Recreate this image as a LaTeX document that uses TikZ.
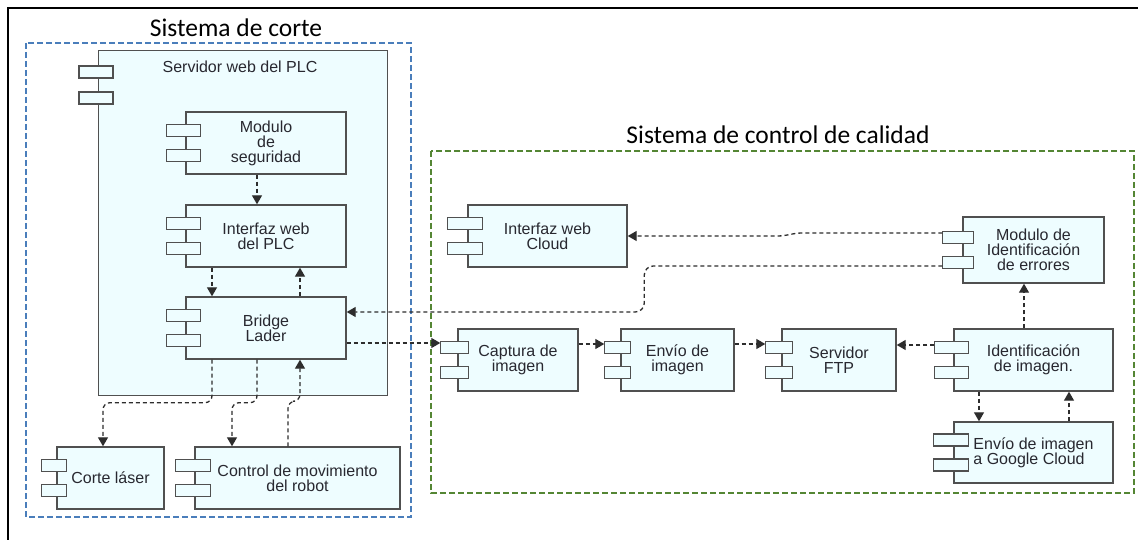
\documentclass[tikz,border=0pt]{standalone}
\usepackage{fontspec}
\setmainfont{Liberation Sans}
\newfontfamily\titlefont{Carlito}
\usetikzlibrary{arrows.meta}

\definecolor{compfill}{RGB}{238,253,255}
\definecolor{compline}{RGB}{80,80,80}
\definecolor{wirecol}{RGB}{45,45,45}
\definecolor{cutblue}{RGB}{74,126,187}
\definecolor{qcgreen}{RGB}{84,134,52}
\definecolor{txtcol}{RGB}{40,40,48}

\tikzset{
  comp/.style={draw=compline, fill=compfill, line width=1.4pt, inner sep=1pt,
    align=center, text=txtcol, font=\fontsize{16}{15}\selectfont},
  icon/.style={draw=compline, fill=compfill, line width=1.4pt},
  wire/.style={draw=wirecol, line width=1.3pt, dash pattern=on 4pt off 3pt,
    -{Triangle[length=9pt,width=10pt]}},
  groupbox/.style={line width=1.6pt, dash pattern=on 6pt off 3pt},
  grouptitle/.style={font=\titlefont\fontsize{25.5}{27}\selectfont, text=black}
}

% two port rectangles on the left side of a component: node, left reach, right reach
\newcommand\cicons[3]{%
  \foreach \dy in {12.5,-12.5}{%
    \draw[icon] ([xshift=-#2pt,yshift=\dy pt+6pt]#1.west) rectangle
                ([xshift=#3pt,yshift=\dy pt-6pt]#1.west);}}

\begin{document}
\begin{tikzpicture}[x=1pt,y=-1pt]
\useasboundingbox (0,0) rectangle (1138,540);

% outer frame
\draw[line width=2pt, black] (8,545) -- (8,8) -- (1145,8);

% group frames and titles
\draw[groupbox, draw=cutblue] (26,43) rectangle (411,517);
\node[grouptitle] (tcorte) at (236,28) {Sistema de corte};
\draw[groupbox, draw=qcgreen] (431,151) rectangle (1134,493);
\node[grouptitle] (tcalidad) at (778,135) {Sistema de control de calidad};

% PLC web server container
\node[comp, anchor=north west, minimum width=289pt, minimum height=345pt] (srv) at (98,50) {};
\draw[icon] ([xshift=-19pt,yshift=-16pt]srv.north west) rectangle ([xshift=15pt,yshift=-28pt]srv.north west);
\draw[icon] ([xshift=-19pt,yshift=-42pt]srv.north west) rectangle ([xshift=15pt,yshift=-54pt]srv.north west);
\node[text=txtcol, font=\fontsize{16}{15}\selectfont] (srvlabel) at (240,67) {Servidor web del PLC};

% components of the cutting system
\node[comp, minimum width=160pt, minimum height=62pt] (mod) at (266,143) {Modulo\\de\\seguridad};
\cicons{mod}{19}{15}
\node[comp, minimum width=160pt, minimum height=62pt] (inter) at (266,236) {Interfaz web\\del PLC};
\cicons{inter}{19}{15}
\node[comp, minimum width=160pt, minimum height=62pt] (bridge) at (266,328) {Bridge\\Lader};
\cicons{bridge}{19}{15}
\node[comp, minimum width=107pt, minimum height=62pt] (corte) at (110.5,478) {Corte láser};
\cicons{corte}{15}{10}
\node[comp, minimum width=205pt, minimum height=62pt] (ctrl) at (297.5,478) {Control de movimiento\\del robot};
\cicons{ctrl}{19}{16}

% components of the quality control system
\node[comp, minimum width=159pt, minimum height=62pt] (cloudui) at (547.5,236) {Interfaz web\\Cloud};
\cicons{cloudui}{20}{15}
\node[comp, minimum width=120pt, minimum height=62pt] (captura) at (518,360) {Captura de\\imagen};
\cicons{captura}{17}{11}
\node[comp, minimum width=113pt, minimum height=62pt] (envio) at (677.5,360) {Envío de\\imagen};
\cicons{envio}{16}{10}
\node[comp, minimum width=114pt, minimum height=62pt] (ftp) at (839,360) {Servidor\\FTP};
\cicons{ftp}{16}{11}
\node[comp, minimum width=141pt, minimum height=66pt] (errores) at (1033.5,250) {Modulo de\\Identificación\\de errores};
\cicons{errores}{20}{11}
\node[comp, minimum width=159pt, minimum height=62pt] (ident) at (1033.5,360) {Identificación\\de imagen.};
\cicons{ident}{19}{15}
\node[comp, minimum width=159pt, minimum height=61pt, align=left] (google) at (1033.5,452.5) {Envío de imagen\\a Google Cloud};
\cicons{google}{20}{15}

% connectors inside the cutting system
\draw[wire] ([xshift=-9pt]mod.south) -- ([xshift=-9pt]inter.north);
\draw[wire] ([xshift=-54pt]inter.south) -- ([xshift=-54pt]bridge.north);
\draw[wire] ([xshift=34pt]bridge.north) -- ([xshift=34pt]inter.south);
\draw[wire, rounded corners=7pt] ([xshift=-54pt]bridge.south) -- ++(0,43) -| ([xshift=-7.5pt]corte.north);
\draw[wire, rounded corners=7pt] ([xshift=-9pt]bridge.south) -- ++(0,43) -| ([xshift=-65.5pt]ctrl.north);
\draw[wire, rounded corners=7pt] ([xshift=-9.5pt]ctrl.north) -- ++(0,-45) -| ([xshift=34pt]bridge.south);

% connectors between and inside the quality control system
\draw[wire] ([yshift=-15pt]bridge.east) -- ([xshift=-17pt,yshift=-15pt]captura.west |- bridge.east);
\draw[wire] ([yshift=16pt]captura.east) -- ([xshift=-16pt,yshift=16pt]envio.west);
\draw[wire] ([yshift=16pt]envio.east) -- ([xshift=-16pt,yshift=16pt]ftp.west);
\draw[wire] ([xshift=-19pt,yshift=15pt]ident.west) -- ([yshift=15pt]ftp.east);
\draw[wire] ([xshift=-9.5pt]ident.north) -- ([xshift=-9.5pt]errores.south);
\draw[wire] ([xshift=-54.5pt]ident.south) -- ([xshift=-54.5pt]google.north);
\draw[wire] ([xshift=35.5pt]google.north) -- ([xshift=35.5pt]ident.south);
\draw[wire] ([xshift=-20pt,yshift=17pt]errores.west) -- ++(-140,0)
  to[out=180,in=0] ++(-25,3) -- (cloudui.east);
\draw[wire, rounded corners=9pt] ([xshift=-20pt,yshift=-16pt]errores.west) -- ++(-298,0)
  -- ++(0,46) -- ([yshift=16pt]bridge.east);
\end{tikzpicture}
\end{document}
